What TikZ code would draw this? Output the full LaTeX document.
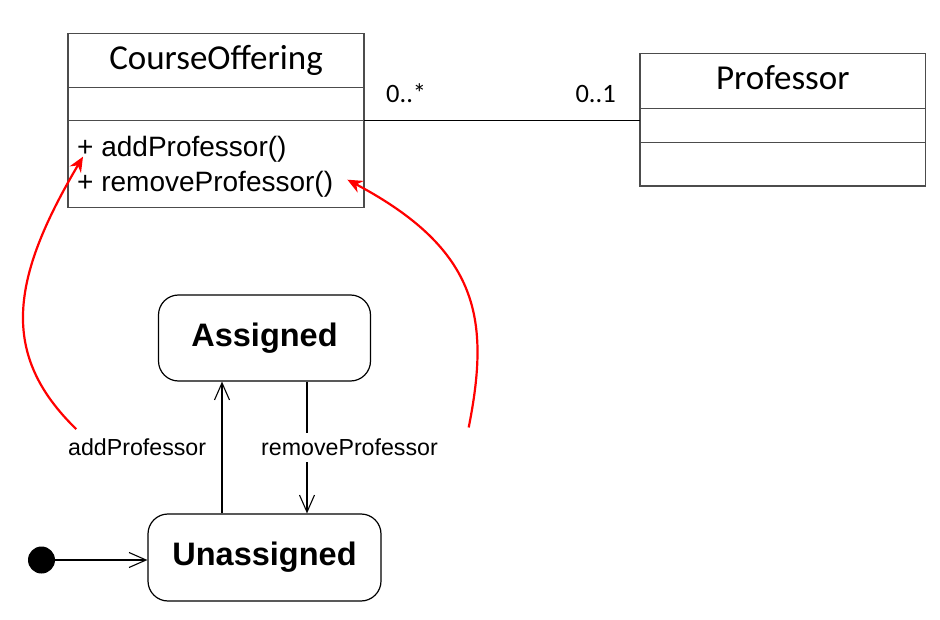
\documentclass[tikz,border=0pt]{standalone}
\usepackage{fontspec}
\setmainfont{Liberation Sans}
\newfontfamily\calibrifont{Carlito}
\usetikzlibrary{arrows.meta,positioning}

\begin{document}
\begin{tikzpicture}[x=1pt,y=-1pt,node distance=0pt,
 classname/.style={draw=black!70,line width=1.2pt,outer sep=0pt,inner sep=0pt,minimum height=54pt,text height=25pt,text depth=7pt,font=\calibrifont\fontsize{35}{40}\selectfont},
 compart/.style={draw=black!70,line width=1.2pt,outer sep=0pt,inner sep=0pt},
 op/.style={anchor=base west,inner sep=0pt,font=\fontsize{28}{33}\selectfont},
 mult/.style={inner sep=0pt,font=\calibrifont\fontsize{26.5}{30}\selectfont},
 state/.style={draw,rounded corners=20pt,line width=1.2pt,font=\bfseries\fontsize{32.5}{38}\selectfont},
 initdot/.style={circle,fill=black,inner sep=0pt,minimum size=27pt},
 trans/.style={-{Straight Barb[length=17pt,width=15pt]},line width=1.1pt},
 evt/.style={font=\fontsize{23.2}{28}\selectfont},
 link/.style={-{Stealth[length=15pt,width=13pt]},red,line width=2.2pt}]
\useasboundingbox (0,0) rectangle (940,620);
% class diagram
\node[classname,minimum width=296pt] (co) at (216,60.3) {CourseOffering};
\node[compart,minimum width=296pt,minimum height=33.4pt,below=of co] (coattr) {};
\node[compart,minimum width=296pt,minimum height=87pt,below=of coattr] (coops) {};
\node[op] (addop) at (77,156.7) {+ addProfessor()};
\node[op] (remop) at (77,191.7) {+ removeProfessor()};
\node[classname,minimum width=285.7pt,minimum height=55pt] (prof) at (782.8,80.8) {Professor};
\node[compart,minimum width=285.7pt,minimum height=34.4pt,below=of prof] (profattr) {};
\node[compart,minimum width=285.7pt,minimum height=43.3pt,below=of profattr] (profops) {};
\draw[line width=1.1pt] (coattr.south east) -- (coattr.south east -| prof.west);
\node[mult,anchor=base west] (m1) at ([xshift=22pt,yshift=18.2pt]coattr.south east) {0..*};
\node[mult,anchor=base east] (m2) at ([xshift=-24pt,yshift=18pt]coattr.south east -| prof.west) {0..1};
% state machine
\node[state,minimum width=212pt,minimum height=86pt] (assigned) at (264.5,338) {Assigned};
\node[state,minimum width=233pt,minimum height=87pt] (unassigned) at (264.5,557.5) {Unassigned};
\node[initdot] (init) at (41.5,560) {};
\draw[trans] (init) -- (init -| unassigned.west);
\draw[trans] ([xshift=-42.5pt]unassigned.north) -- ([xshift=-42.5pt]assigned.south)
  node[evt,midway,left=12pt] (addevt) {addProfessor};
\draw[trans] ([xshift=42.5pt]assigned.south) -- ([xshift=42.5pt]unassigned.north)
  node[evt,midway,fill=white,inner ysep=6pt,xshift=42.5pt] (remevt) {removeProfessor};
% events to operations
\draw[link] ([xshift=12pt,yshift=6pt]addevt.north west) .. controls (0,355) and (10,280) .. ([xshift=6pt]addop.base west);
\draw[link] ([xshift=27pt,yshift=5pt]remevt.north east) .. controls (490,320) and (480,250) .. ([xshift=14pt,yshift=12pt]remop.base east);
\end{tikzpicture}
\end{document}
